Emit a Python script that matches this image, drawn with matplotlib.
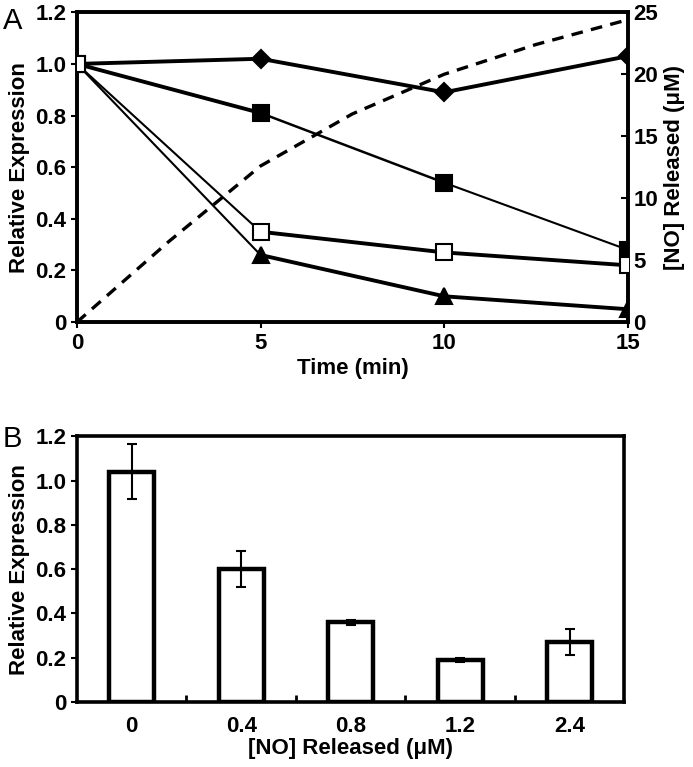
import numpy as np
import matplotlib.pyplot as plt

# panel A data
time_min   = [0, 5, 10, 15]
diamond    = [1.00, 1.02, 0.89, 1.03]
sq_filled  = [1.00, 0.81, 0.54, 0.28]
sq_open    = [1.00, 0.35, 0.27, 0.22]
triangle   = [1.00, 0.26, 0.10, 0.05]

no_time    = [0, 2.5, 5, 7.5, 10, 12.5, 15]
no_conc    = [0, 6.5, 12.6, 16.8, 20.0, 22.4, 24.4]

# panel B data
no_labels  = ['0', '0.4', '0.8', '1.2', '2.4']
bar_values = [1.04, 0.60, 0.36, 0.19, 0.27]
bar_errors = [0.125, 0.08, 0.012, 0.010, 0.057]

FONT = ['Liberation Sans Narrow', 'Liberation Sans', 'DejaVu Sans']
plt.rcParams['font.family'] = FONT
plt.rcParams['font.weight'] = 'bold'
FS = 16

SPINE_W = 2.6


def style_spines(ax):
    for s in ax.spines.values():
        s.set_linewidth(SPINE_W)


def draw_series(ax, x, y, marker, face, widths, ms):
    # per-segment line widths, as in the source figure
    for i in range(len(x) - 1):
        ax.plot(x[i:i + 2], y[i:i + 2], color='black', lw=widths[i],
                solid_capstyle='round', zorder=3)
    ax.plot(x, y, ls='none', marker=marker, ms=ms, mfc=face, mec='black',
            mew=1.5, zorder=5)


fig = plt.figure(figsize=(6.93, 7.67), dpi=100)

# ---------------- panel A ----------------
axA = fig.add_axes([0.111, 0.580, 0.795, 0.404])
axR = axA.twinx()

axR.plot(no_time, no_conc, color='black', lw=2.4, ls=(0, (3.5, 2.5)), zorder=1)
axR.set_ylim(0, 25)
axR.set_yticks([0, 5, 10, 15, 20, 25])
axR.set_ylabel('[NO] Released (\u03bcM)', fontsize=FS, fontweight='bold',
               labelpad=4)
axR.tick_params(axis='y', direction='in', length=5, width=1.5, labelsize=FS,
                pad=4)

axA.set_zorder(axR.get_zorder() + 1)
axA.patch.set_visible(False)

draw_series(axA, time_min, diamond, 'D', 'black', [2.8, 2.8, 2.8], 9)
draw_series(axA, time_min, sq_filled, 's', 'black', [2.8, 1.8, 1.5], 12)
draw_series(axA, time_min, triangle, '^', 'black', [1.5, 2.8, 2.8], 11)
draw_series(axA, time_min, sq_open, 's', 'white', [1.5, 2.8, 2.8], 12)

axA.set_xlim(0, 15)
axA.set_ylim(0, 1.2)
axA.set_xticks([0, 5, 10, 15])
axA.set_yticks([0, 0.2, 0.4, 0.6, 0.8, 1.0, 1.2])
axA.set_yticklabels(['0', '0.2', '0.4', '0.6', '0.8', '1.0', '1.2'])
axA.tick_params(axis='both', direction='out', length=4, width=1.5,
                labelsize=FS)
axA.set_xlabel('Time (min)', fontsize=FS, fontweight='bold', labelpad=3)
axA.set_ylabel('Relative Expression', fontsize=FS, fontweight='bold',
               labelpad=4)
style_spines(axA)
style_spines(axR)
fig.text(0.004, 0.972, 'A', fontsize=21, fontweight='normal',
         family=['Liberation Sans', 'DejaVu Sans'], va='center')

# ---------------- panel B ----------------
axB = fig.add_axes([0.111, 0.085, 0.790, 0.346])
xpos = np.arange(len(no_labels))
axB.bar(xpos, bar_values, width=0.41, color='white', edgecolor='black',
        linewidth=3.2, zorder=2)
axB.errorbar(xpos, bar_values, yerr=bar_errors, fmt='none', ecolor='black',
             elinewidth=1.5, capsize=3.5, capthick=1.5, zorder=3)
axB.set_xlim(-0.5, len(no_labels) - 0.5)
axB.set_ylim(0, 1.2)
axB.set_xticks(xpos)
axB.set_xticklabels(no_labels)
axB.set_xticks(xpos[:-1] + 0.5, minor=True)
axB.set_yticks([0, 0.2, 0.4, 0.6, 0.8, 1.0, 1.2])
axB.set_yticklabels(['0', '0.2', '0.4', '0.6', '0.8', '1.0', '1.2'])
axB.tick_params(axis='x', which='both', direction='in', length=5, width=2,
                labelsize=FS, pad=10)
axB.tick_params(axis='y', direction='out', length=4, width=1.5,
                labelsize=FS)
axB.set_xlabel('[NO] Released (\u03bcM)', fontsize=FS, fontweight='bold',
               labelpad=1)
axB.set_ylabel('Relative Expression', fontsize=FS, fontweight='bold',
               labelpad=4)
style_spines(axB)
fig.text(0.004, 0.428, 'B', fontsize=21, fontweight='normal',
         family=['Liberation Sans', 'DejaVu Sans'], va='center')

fig.savefig('out.png', dpi=100)
